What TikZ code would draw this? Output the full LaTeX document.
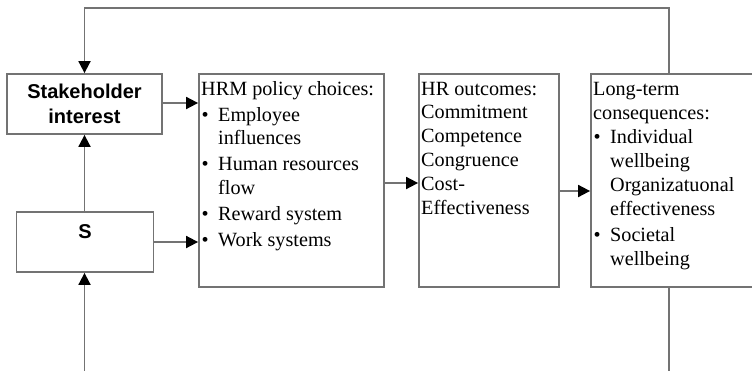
\documentclass[tikz,border=0pt]{standalone}
\usepackage{fontspec}
\setmainfont{Liberation Serif}
\newfontfamily\arialfont{Liberation Sans}
\usetikzlibrary{arrows.meta}
\definecolor{linegray}{RGB}{115,115,115}
\newcommand{\bitem}[1]{\makebox[17pt][l]{\hspace{0.5pt}\textbullet}#1}
\newcommand{\cont}[1]{\hspace*{17pt}#1}
\tikzset{
 box/.style={draw=linegray, line width=1.8pt, fill=white, inner sep=0pt},
 conn/.style={draw=linegray, line width=1.8pt},
 arr/.style={conn, -{Triangle[length=12pt,width=12pt,fill=black,color=black]}},
 txt/.style={anchor=base west, inner sep=0pt},
 sansb/.style={font=\arialfont\bfseries\fontsize{20}{25}\selectfont},
}
\begin{document}
\begin{tikzpicture}[x=1pt,y=-1pt]
\clip (0,0) rectangle (752,370);
\fill[white] (0,0) rectangle (752,370);

\node[box, sansb, minimum width=155pt, minimum height=60pt, align=center] (stake) at (84.5,104) {Stakeholder\\interest};
\node[box, minimum width=137pt, minimum height=60pt] (s) at (85,242) {};
\node[sansb, inner sep=0pt] (stext) at (85,232) {S};

\node[box, minimum width=185pt, minimum height=213pt] (hrm) at (291.5,180.5) {};
\node[box, minimum width=140pt, minimum height=213pt] (hro) at (489,180.5) {};
\node[box, minimum width=180pt, minimum height=213pt] (lt) at (681,180.5) {};

\node[txt] (hrmtext) at (201,95) {\parbox[t]{182pt}{\fontsize{20.2}{23.5}\selectfont\raggedright
HRM policy choices:\\[2.5pt]
\bitem{Employee}\\
\cont{influences}\\[2.5pt]
\bitem{Human resources}\\
\cont{flow}\\[2.5pt]
\bitem{Reward system}\\[2.5pt]
\bitem{Work systems}}};

\node[txt] (hrotext) at (421,95) {\parbox[t]{136pt}{\fontsize{20.2}{23.8}\selectfont\raggedright
HR outcomes:\\
Commitment\\
Competence\\
Congruence\\
Cost-\\
Effectiveness}};

\node[txt] (lttext) at (593,95) {\parbox[t]{160pt}{\fontsize{20.2}{24}\selectfont\raggedright
Long-term\\
consequences:\\
\bitem{Individual}\\
\cont{wellbeing}\\
\cont{Organizatuonal}\\
\cont{effectiveness}\\[2pt]
\bitem{Societal}\\
\cont{wellbeing}}};

\coordinate (tr) at (669,8);
\coordinate (bl) at (84.5,372);
\coordinate (br) at (669,372);

\draw[arr] (lt.north -| tr) -- (tr) -- (tr -| stake.north) -- (stake.north);
\draw[arr] (stake.south |- s.north) -- (stake.south);
\draw[arr] (bl) -- (bl |- s.south);
\draw[conn] (lt.south -| br) -- (br);
\draw[arr] ([yshift=1pt]stake.east) -- ([yshift=1pt]stake.east -| hrm.west);
\draw[arr] (s.east) -- (s.east -| hrm.west);
\draw[arr] ([yshift=-2.5pt]hrm.east) -- ([yshift=-2.5pt]hrm.east -| hro.west);
\draw[arr] ([yshift=-10.5pt]hro.east) -- ([yshift=-10.5pt]hro.east -| lt.west);
\end{tikzpicture}
\end{document}
